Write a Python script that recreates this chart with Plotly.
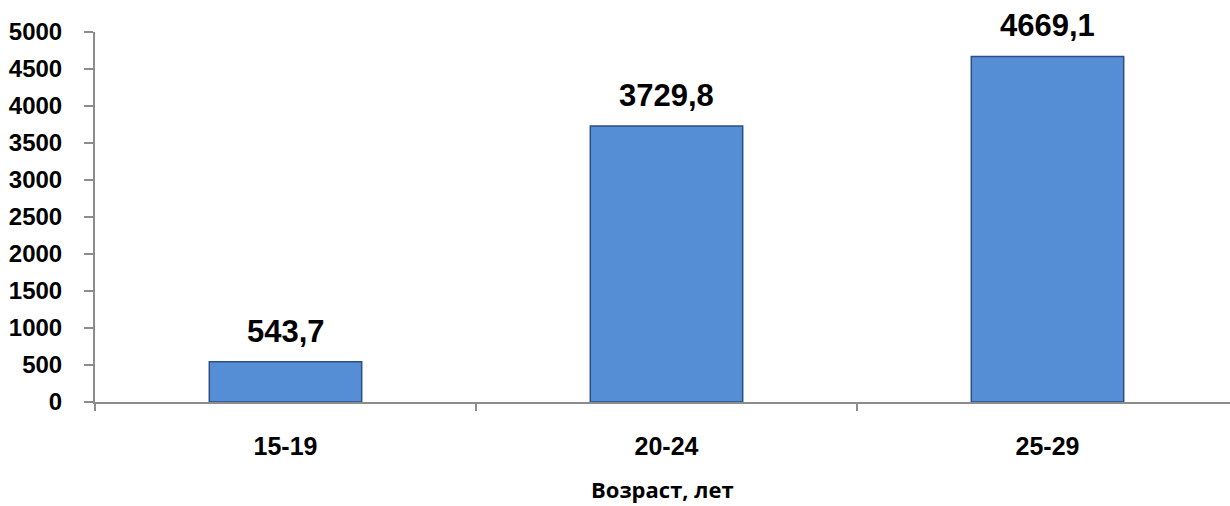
import plotly.graph_objects as go

# Age groups and values
age_groups = ["15-19", "20-24", "25-29"]
values = [543.7, 3729.8, 4669.1]
y_ticks = [0, 500, 1000, 1500, 2000, 2500, 3000, 3500, 4000, 4500, 5000]
x_title = "Возраст, лет"

labels = [f"{v:.1f}".replace(".", ",") for v in values]

fig = go.Figure()
fig.add_trace(go.Bar(
    x=age_groups,
    y=values,
    width=0.4,
    marker=dict(color="#558ed5", line=dict(color="#2c4f86", width=1.5)),
    hoverinfo="skip",
))

for cat, v, lab in zip(age_groups, values, labels):
    fig.add_annotation(
        x=cat, y=v, text=lab, showarrow=False,
        yanchor="bottom", yshift=11,
        font=dict(family="Liberation Sans, Arial", size=31, color="#000000", weight="bold"),
    )

fig.add_annotation(
    xref="paper", yref="paper", x=0.5, y=-0.235,
    text=f"<b>{x_title}</b>", showarrow=False,
    xanchor="center", yanchor="middle",
    font=dict(family="Open Sans", size=22, color="#000000"),
)

fig.update_layout(
    width=1230, height=506,
    margin=dict(l=95, r=0, t=32, b=104),
    plot_bgcolor="white", paper_bgcolor="white",
    showlegend=False,
    bargap=0.6,
)

fig.update_xaxes(
    type="category",
    range=[-0.5, -0.5 + 1135 / 381],
    showline=True, linecolor="#8c8c8c", linewidth=2,
    ticks="outside", tickson="boundaries", ticklen=7, tickwidth=2, tickcolor="#8c8c8c",
    tickfont=dict(family="Liberation Sans, Arial", size=25, color="#000000", weight="bold"),
    ticklabelstandoff=21,
    showgrid=False, zeroline=False,
)

fig.update_yaxes(
    range=[0, 5000],
    tickvals=y_ticks,
    showline=True, linecolor="#8c8c8c", linewidth=2,
    ticks="outside", ticklen=9, tickwidth=2, tickcolor="#8c8c8c",
    tickfont=dict(family="Liberation Sans, Arial", size=24, color="#000000", weight="bold"),
    ticklabelstandoff=17,
    showgrid=False, zeroline=False,
)

fig.write_html("out.html")
